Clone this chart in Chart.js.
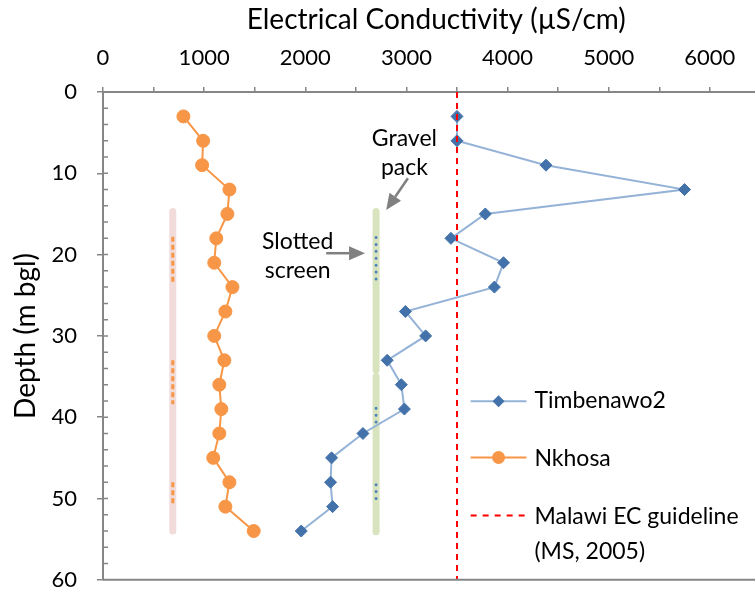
<!DOCTYPE html>
<html>
<head>
<meta charset="utf-8">
<script src="https://cdn.jsdelivr.net/npm/chart.js@4.4.1/dist/chart.umd.min.js"></script>
<style>
  html, body { margin: 0; padding: 0; background: #fff; overflow: hidden; }
  #wrap { width: 755px; height: 613px; overflow: hidden; }
</style>
</head>
<body>
<div id="wrap"><canvas id="ec" width="777" height="613"></canvas></div>
<script>
// depth below ground (m) for both profiles
const depths = [3, 6, 9, 12, 15, 18, 21, 24, 27, 30, 33, 36, 39, 42, 45, 48, 51, 54];
const timbenawo2 = [3500, 3500, 4380, 5750, 3780, 3440, 3960, 3870, 2990, 3190, 2810, 2950, 2980, 2570, 2260, 2250, 2270, 1960];
const nkhosa = [795, 990, 980, 1250, 1230, 1120, 1100, 1280, 1210, 1100, 1200, 1150, 1170, 1150, 1090, 1250, 1210, 1490];

const guidelineEc = 3500;
const depthRange = [0, 60];
// the plot runs past the right edge of the picture, like the original
const ecRange = [0, 6590];
const ecTicks = [0, 500, 1000, 1500, 2000, 2500, 3000, 3500, 4000, 4500, 5000, 5500, 6000, 6500];
const depthTicks = [0, 10, 20, 30, 40, 50, 60];

// well construction sketches (EC axis position + depth intervals)
const nkhosaWellX = 690;
const nkhosaCasing = [[14.7, 54]];
const nkhosaSlots = [[17.8, 23.5], [33, 38.4], [48, 50.6]];
const timbWellX = 2700;
const timbGravel = [[14.7, 34.2], [35, 54.1]];
const timbSlots = [[17.9, 23.6], [38.9, 41.3], [48.3, 50.6]];

const FONT = "Lato, 'Open Sans', sans-serif";
const AXIS_GREY = "#868686";
const BLUE_LINE = "#95B3D7";
const BLUE_MARK = "#4372AA";
const ORANGE = "#F79646";

function profile(values) {
  return values.map((v, i) => ({ x: v, y: depths[i] }));
}

function segments(x, ranges) {
  const pts = [];
  ranges.forEach(([a, b], i) => {
    if (i > 0) pts.push({ x: x, y: null });
    pts.push({ x: x, y: a }, { x: x, y: b });
  });
  return pts;
}

function stick(label, data, color, width, dash, cap) {
  return {
    label, data, showLine: true, spanGaps: false,
    borderColor: color, borderWidth: width, borderDash: dash || [],
    borderCapStyle: cap || "round", pointRadius: 0, pointHoverRadius: 0,
  };
}

// text labels + arrows, placed in data units
const notes = [
  { text: "Gravel", x: 2980, y: 6.61 },
  { text: "pack", x: 2980, y: 10.16 },
  { text: "Slotted", x: 1925, y: 19.25 },
  { text: "screen", x: 1925, y: 22.9 },
];
const arrows = [
  { from: [2207, 19.83], to: [2591, 19.83] },
  { from: [3015, 10.6], to: [2800, 14.5] },
];
const legendItems = [
  { text: ["Timbenawo2"], y: 38.03, textY: 38.9, kind: "diamond" },
  { text: ["Nkhosa"], y: 44.96, textY: 46.0, kind: "circle" },
  { text: ["Malawi EC guideline", "(MS, 2005)"], y: 52.1, textY: 53.1, kind: "dash" },
];
const legendX = { start: 3635, end: 4187, mark: 3911, text: 4266 };

const decorations = {
  id: "decorations",
  afterDraw(chart) {
    const { ctx, chartArea: a, scales } = chart;
    const px = (v) => scales.x.getPixelForValue(v);
    const py = (v) => scales.y.getPixelForValue(v);
    ctx.save();

    // bottom frame line
    ctx.strokeStyle = AXIS_GREY;
    ctx.lineWidth = 2;
    ctx.beginPath();
    ctx.moveTo(a.left, a.bottom);
    ctx.lineTo(a.right, a.bottom);
    ctx.stroke();

    // inward depth ticks
    ctx.lineWidth = 1.5;
    ctx.beginPath();
    for (let d = 2; d < 60; d += 2) {
      const y = py(d);
      ctx.moveTo(a.left, y);
      ctx.lineTo(a.left + 5, y);
    }
    ctx.stroke();

    // annotation text
    ctx.fillStyle = "#000";
    ctx.font = "23px " + FONT;
    ctx.textAlign = "center";
    ctx.textBaseline = "alphabetic";
    notes.forEach((n) => ctx.fillText(n.text, px(n.x), py(n.y)));

    // arrows
    ctx.strokeStyle = "#808080";
    ctx.fillStyle = "#808080";
    arrows.forEach((ar) => {
      const x1 = px(ar.from[0]), y1 = py(ar.from[1]);
      const x2 = px(ar.to[0]), y2 = py(ar.to[1]);
      const ang = Math.atan2(y2 - y1, x2 - x1);
      const head = 16, half = 7;
      const bx = x2 - head * Math.cos(ang), by = y2 - head * Math.sin(ang);
      ctx.lineWidth = 2.5;
      ctx.beginPath();
      ctx.moveTo(x1, y1);
      ctx.lineTo(bx, by);
      ctx.stroke();
      ctx.beginPath();
      ctx.moveTo(x2, y2);
      ctx.lineTo(bx + half * Math.sin(ang), by - half * Math.cos(ang));
      ctx.lineTo(bx - half * Math.sin(ang), by + half * Math.cos(ang));
      ctx.closePath();
      ctx.fill();
    });

    // legend
    ctx.textAlign = "left";
    legendItems.forEach((it) => {
      const y = py(it.y);
      const x0 = px(legendX.start), x1 = px(legendX.end), xm = px(legendX.mark);
      ctx.lineWidth = 2;
      if (it.kind === "dash") {
        ctx.strokeStyle = "#FF0000";
        ctx.setLineDash([6, 6]);
      } else {
        ctx.strokeStyle = it.kind === "diamond" ? BLUE_LINE : ORANGE;
        ctx.setLineDash([]);
      }
      ctx.beginPath();
      ctx.moveTo(x0, y);
      ctx.lineTo(x1, y);
      ctx.stroke();
      ctx.setLineDash([]);
      if (it.kind === "diamond") {
        ctx.fillStyle = BLUE_MARK;
        ctx.beginPath();
        ctx.moveTo(xm, y - 6);
        ctx.lineTo(xm + 6, y);
        ctx.lineTo(xm, y + 6);
        ctx.lineTo(xm - 6, y);
        ctx.closePath();
        ctx.fill();
      } else if (it.kind === "circle") {
        ctx.fillStyle = ORANGE;
        ctx.beginPath();
        ctx.arc(xm, y, 6.5, 0, Math.PI * 2);
        ctx.fill();
      }
      ctx.fillStyle = "#000";
      it.text.forEach((t, k) => ctx.fillText(t, px(legendX.text), py(it.textY) + k * 35));
    });
    ctx.restore();
  },
};

new Chart(document.getElementById("ec"), {
  type: "scatter",
  data: {
    datasets: [
      stick("Malawi EC guideline (MS, 2005)",
        [{ x: guidelineEc, y: depthRange[0] }, { x: guidelineEc, y: depthRange[1] }],
        "#FF0000", 2, [6, 5], "butt"),
      {
        label: "Timbenawo2", data: profile(timbenawo2), showLine: true,
        borderColor: BLUE_LINE, borderWidth: 2,
        pointStyle: "rectRot", pointRadius: 6, pointHoverRadius: 6,
        pointBackgroundColor: BLUE_MARK, pointBorderColor: BLUE_MARK, pointBorderWidth: 1,
      },
      {
        label: "Nkhosa", data: profile(nkhosa), showLine: true,
        borderColor: ORANGE, borderWidth: 2,
        pointStyle: "circle", pointRadius: 6.5, pointHoverRadius: 6.5,
        pointBackgroundColor: ORANGE, pointBorderColor: ORANGE, pointBorderWidth: 1,
      },
      stick("timb slots", segments(timbWellX, timbSlots), "#4F81BD", 3, [0.01, 6.9], "round"),
      stick("nkhosa slots", segments(nkhosaWellX, nkhosaSlots), ORANGE, 3, [5, 3], "butt"),
      stick("timb gravel", segments(timbWellX, timbGravel), "#D7E4BD", 7),
      stick("nkhosa casing", segments(nkhosaWellX, nkhosaCasing), "#F2DCDB", 7),
    ],
  },
  options: {
    responsive: false,
    animation: false,
    layout: { padding: 0 },
    plugins: { legend: { display: false }, tooltip: { enabled: false } },
    scales: {
      x: {
        position: "top",
        min: ecRange[0], max: ecRange[1],
        afterFit(s) { s.height = 92; },
        afterBuildTicks(s) { s.ticks = ecTicks.map((v) => ({ value: v })); },
        ticks: {
          autoSkip: false, maxRotation: 0, padding: 16, color: "#000",
          font: { family: FONT, size: 22 },
          callback: (v) => (v % 1000 === 0 ? String(v) : ""),
        },
        grid: { drawOnChartArea: false, tickLength: 5, color: AXIS_GREY, lineWidth: 1.5 },
        border: { color: AXIS_GREY, width: 2 },
        title: {
          display: true, text: "Electrical Conductivity (µS/cm)", color: "#000",
          font: { family: FONT, size: 28 }, padding: { top: 3, bottom: 0 },
        },
      },
      x2: {
        position: "bottom", display: false,
        min: ecRange[0], max: ecRange[1],
        afterFit(s) { s.height = 13; },
      },
      y: {
        reverse: true,
        min: depthRange[0], max: depthRange[1],
        afterFit(s) { s.width = 103; },
        afterBuildTicks(s) { s.ticks = depthTicks.map((v) => ({ value: v })); },
        ticks: {
          autoSkip: false, padding: 20, color: "#000",
          font: { family: FONT, size: 22 },
        },
        grid: { drawOnChartArea: false, tickLength: 6, color: AXIS_GREY, lineWidth: 1.5 },
        border: { color: AXIS_GREY, width: 2 },
        title: {
          display: true, text: "Depth (m bgl)", color: "#000",
          font: { family: FONT, size: 28 }, padding: { top: 9, bottom: 0 },
        },
      },
    },
  },
  plugins: [decorations],
});
</script>
</body>
</html>
